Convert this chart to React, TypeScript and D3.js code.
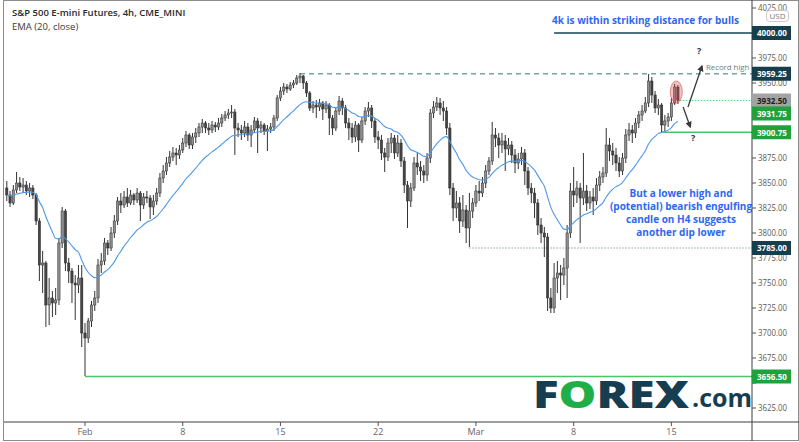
import React from 'react';
import * as d3 from 'd3';

// ---------- data ----------
const firstOpen = 3845;
const emaSeed = 3838;

const closes = [
  3838,3830,3843,3850,3846,3848,3842,3845,3838,3812,
  3768,3770,3728,3735,3730,3733,3790,3822,3770,3762,
  3750,3748,3755,3700,3695,3712,3728,3735,3768,3772,
  3790,3785,3800,3812,3832,3828,3836,3830,3838,3833,
  3840,3828,3836,3835,3826,3832,3840,3855,3862,3870,
  3876,3880,3878,3883,3890,3898,3888,3896,3900,3906,
  3910,3905,3903,3908,3906,3910,3915,3918,3920,3921,
  3905,3903,3900,3906,3898,3903,3912,3905,3908,3902,
  3904,3906,3915,3935,3942,3946,3944,3948,3950,3955,
  3957,3950,3940,3925,3928,3926,3930,3924,3928,3915,
  3905,3922,3932,3925,3910,3905,3896,3908,3893,3912,
  3922,3925,3912,3896,3893,3880,3876,3890,3895,3880,
  3890,3872,3848,3832,3845,3870,3866,3862,3858,3875,
  3920,3926,3930,3925,3922,3905,3845,3825,3830,3812,
  3823,3805,3822,3830,3842,3840,3850,3862,3872,3898,
  3895,3888,3892,3884,3888,3878,3870,3874,3880,3862,
  3845,3840,3830,3808,3800,3796,3735,3725,3755,3760,
  3758,3765,3800,3842,3838,3845,3835,3842,3830,3836,
  3832,3848,3856,3860,3888,3882,3878,3870,3862,3875,
  3898,3903,3900,3910,3918,3922,3930,3952,3938,3925,
  3928,3908,3912,3916,3930,3946,3932.5,
];

const highs = [
  3852,3842,3848,3861,3856,3855,3852,3850,3848,3840,
  3815,3782,3772,3755,3742,3745,3795,3826,3824,3775,
  3765,3758,3768,3768,3710,3715,3732,3742,3774,3780,
  3795,3793,3806,3818,3836,3840,3842,3845,3843,3840,
  3845,3842,3840,3842,3838,3838,3845,3860,3868,3876,
  3882,3886,3885,3888,3895,3902,3900,3900,3905,3910,
  3914,3912,3910,3912,3911,3915,3919,3922,3924,3928,
  3924,3910,3908,3912,3910,3908,3916,3915,3912,3910,
  3908,3910,3918,3938,3946,3950,3949,3951,3953,3958,
  3960,3958,3952,3942,3932,3933,3934,3932,3932,3930,
  3918,3926,3937,3935,3928,3915,3910,3912,3910,3916,
  3926,3931,3928,3915,3902,3898,3885,3895,3900,3898,
  3898,3894,3876,3852,3850,3876,3880,3872,3868,3880,
  3924,3932,3936,3935,3932,3926,3910,3850,3842,3836,
  3838,3828,3840,3835,3848,3852,3856,3868,3876,3911,
  3905,3900,3900,3898,3895,3892,3884,3880,3886,3884,
  3866,3850,3845,3834,3815,3806,3800,3745,3770,3772,
  3768,3775,3808,3850,3866,3852,3850,3880,3848,3842,
  3845,3855,3862,3866,3905,3895,3890,3885,3876,3880,
  3904,3910,3908,3915,3922,3928,3936,3959,3956,3942,
  3934,3930,3918,3920,3935,3949,3948,
];

const lows = [
  3832,3826,3828,3840,3842,3840,3838,3836,3834,3808,
  3752,3740,3706,3708,3716,3718,3728,3785,3762,3750,
  3730,3713,3740,3686,3657,3690,3706,3722,3730,3760,
  3768,3778,3782,3795,3808,3820,3825,3826,3828,3828,
  3830,3812,3824,3830,3814,3818,3828,3836,3850,3858,
  3866,3872,3868,3874,3880,3886,3884,3884,3890,3896,
  3900,3900,3898,3900,3901,3903,3906,3912,3914,3915,
  3878,3896,3893,3896,3892,3886,3900,3880,3900,3898,
  3882,3900,3902,3912,3932,3938,3940,3942,3945,3948,
  3950,3944,3936,3922,3920,3915,3922,3913,3920,3898,
  3898,3902,3918,3918,3905,3893,3890,3891,3881,3890,
  3908,3916,3905,3890,3884,3873,3861,3872,3880,3874,
  3876,3866,3840,3805,3826,3842,3858,3852,3850,3852,
  3870,3915,3922,3918,3912,3898,3838,3812,3815,3800,
  3806,3790,3786,3815,3826,3832,3836,3845,3858,3868,
  3886,3875,3880,3862,3878,3870,3860,3864,3868,3848,
  3838,3830,3815,3798,3790,3776,3722,3720,3720,3740,
  3733,3748,3735,3795,3826,3830,3790,3828,3822,3824,
  3818,3828,3842,3850,3856,3872,3868,3862,3856,3858,
  3870,3892,3890,3895,3905,3912,3920,3926,3930,3920,
  3918,3901,3902,3906,3912,3928,3929,
];

const timeTickBars = [24, 54, 84, 114, 144, 174, 204];
const timeTickLabels = ['Feb', '8', '15', '22', 'Mar', '8', '15'];

const priceTicks = [3625, 3650, 3675, 3700, 3725, 3750, 3775, 3800, 3825, 3850, 3875, 3900, 3925, 3950, 3975, 4000, 4025];

const labelValues = [4000, 3959.25, 3932.5, 3931.75, 3900.75, 3785, 3656.5];
const labelKinds = ['dark', 'dark', 'gray', 'green', 'green', 'dark', 'green'];

const lineValues = [4000, 3959.25, 3785, 3932.5, 3900.75, 3656.5];
const lineStartBars = [168, 90, 142, 206.6, 201, 24];
const lineKinds = ['solid', 'dashed', 'dotted', 'dottedGreen', 'green', 'green'];

const title = 'S&P 500 E-mini Futures, 4h, CME_MINI';
const subtitle = 'EMA (20, close)';
const topNote = '4k is within striking distance for bulls';
const sideNote = ['But a lower high and', '(potential) bearish engulfing', 'candle on H4 suggests', 'another dip lower'];

// ---------- layout ----------
const W = 799, H = 442;
const PL = 4, PR = 752, PT = 1, PB = 422;
const FONT = '"Open Sans", "Noto Sans", sans-serif';

export default function App() {
  const x = d3.scaleLinear().domain([0, 206]).range([6.8, 677.9]);
  const y = d3.scaleLinear().domain([3625, 4025]).range([408, 8]);

  const bars = closes.map((c, i) => {
    const o = i === 0 ? firstOpen : closes[i - 1];
    return { i, o, c, h: Math.max(highs[i], o, c), l: Math.min(lows[i], o, c) };
  });

  const k = 2 / 21;
  let e = emaSeed;
  const ema = closes.map((c) => (e = e + k * (c - e)));
  const emaPath = d3.line<number>().x((_, i) => x(i)).y((v) => y(v)).curve(d3.curveMonotoneX)(ema) || '';

  // right-axis labels with simple collision avoidance
  const order = labelValues.map((v, i) => i).sort((a, b) => labelValues[b] - labelValues[a]);
  const labelY: number[] = [];
  let prev = -100;
  order.forEach((idx) => {
    let yy = y(labelValues[idx]);
    if (yy < prev + 13) yy = prev + 13;
    labelY[idx] = yy;
    prev = yy;
  });

  // tick labels fully covered by a level box are not drawn
  const visibleTicks = priceTicks.filter((p) => labelY.every((ly) => Math.abs(ly - y(p)) >= 9));

  const labelFill: Record<string, string> = { dark: '#163e4c', gray: '#a3a3a3', green: '#1fa23c' };
  const labelText: Record<string, string> = { dark: '#ffffff', gray: '#1e1e1e', green: '#ffffff' };

  const lineStyle = (kind: string) => {
    switch (kind) {
      case 'solid': return { stroke: '#124556', strokeWidth: 1.6 };
      case 'dashed': return { stroke: '#7f9ea6', strokeWidth: 1.5, strokeDasharray: '5,4' };
      case 'dotted': return { stroke: '#8aa3ab', strokeWidth: 1, strokeDasharray: '1.5,1.5' };
      case 'dottedGreen': return { stroke: '#5ccf74', strokeWidth: 1, strokeDasharray: '1.5,1.5' };
      default: return { stroke: '#4cc567', strokeWidth: 1.3 };
    }
  };

  const bw = 2.3;

  return (
    <svg width={W} height={H} style={{ position: 'absolute', left: 0, top: 0, background: '#fff' }} fontFamily={FONT}>
      <defs>
        <clipPath id="plot">
          <rect x={PL} y={PT} width={PR - PL} height={PB - PT} />
        </clipPath>
        <marker id="arr" viewBox="0 0 10 10" refX="8" refY="5" markerWidth="5" markerHeight="5" orient="auto">
          <path d="M0,0 L10,5 L0,10 z" fill="#3a3a3a" />
        </marker>
      </defs>
      <rect x={0} y={0} width={W} height={H} fill="#fff" />

      <g clipPath="url(#plot)">
        {/* level lines */}
        {lineValues.map((v, i) => (
          <line key={'lv' + i} x1={x(lineStartBars[i])} x2={PR} y1={y(v)} y2={y(v)} {...lineStyle(lineKinds[i])} />
        ))}

        {/* candles */}
        {bars.map((b) => {
          const cx = x(b.i);
          const top = y(Math.max(b.o, b.c));
          const bot = y(Math.min(b.o, b.c));
          const up = b.c >= b.o;
          return (
            <g key={'b' + b.i}>
              <line x1={cx} x2={cx} y1={y(b.h)} y2={y(b.l)} stroke="#333" strokeWidth={1} />
              <rect x={cx - bw / 2} y={top} width={bw} height={Math.max(1, bot - top)}
                fill={up ? '#8e8e8e' : '#444444'} stroke="#2b2b2b" strokeWidth={0.5} />
            </g>
          );
        })}

        {/* EMA */}
        <path d={emaPath} fill="none" stroke="#4e98e6" strokeWidth={1.1} />

        {/* highlight on the engulfing candle */}
        <ellipse cx={x(205.5)} cy={y(3941)} rx={6} ry={11} fill="rgba(220,80,80,0.35)" stroke="rgba(200,70,70,0.55)" strokeWidth={1} />

        {/* scenario arrows */}
        <line x1={x(209.1)} y1={y(3926)} x2={x(213.4)} y2={y(3967)} stroke="#3a3a3a" strokeWidth={1.3} markerEnd="url(#arr)" />
        <line x1={x(207.6)} y1={y(3926)} x2={x(209.8)} y2={y(3906)} stroke="#3a3a3a" strokeWidth={1.3} markerEnd="url(#arr)" />
        <text x={x(212.5)} y={y(3979)} fontSize={9} fontWeight={700} fill="#333" textAnchor="middle">?</text>
        <text x={x(210.7)} y={y(3892)} fontSize={9} fontWeight={700} fill="#333" textAnchor="middle">?</text>
        <text x={706} y={y(3963)} fontSize={7.8} fill="#6a8088">Record high</text>

        {/* annotations */}
        <text x={552} y={24} fontSize={10} fontWeight={700} fill="#2d68f0">{topNote}</text>
        {sideNote.map((t, i) => (
          <text key={'sn' + i} x={681} y={197 + i * 13} fontSize={10} fontWeight={700} fill="#2d68f0" textAnchor="middle">{t}</text>
        ))}

        {/* logo */}
        <text x={533} y={408} fontSize={37} fontWeight={800} fill="#173d50" textLength={156} lengthAdjust="spacingAndGlyphs">
          F<tspan fill="#1fae48">O</tspan>REX
        </text>
        <text x={692} y={407} fontSize={25} fontWeight={700} fill="#173d50">.com</text>
      </g>

      {/* title */}
      <text x={12} y={16} fontSize={9.5} fontWeight={600} fill="#2a2a2a">{title}</text>
      <text x={12} y={30} fontSize={9.5} fill="#3a3a3a">{subtitle}</text>

      {/* axes frame */}
      <rect x={3.5} y={0.5} width={W - 4} height={H - 2} fill="none" stroke="#8c8c8c" strokeWidth={1} />
      <line x1={PR} x2={PR} y1={0} y2={H - 1} stroke="#3c3c3c" strokeWidth={1} />
      <line x1={PL} x2={W} y1={PB} y2={PB} stroke="#3c3c3c" strokeWidth={1} />

      {/* price axis */}
      {priceTicks.map((p) => (
        <line key={'ptl' + p} x1={PR} x2={PR + 4} y1={y(p)} y2={y(p)} stroke="#555" />
      ))}
      {visibleTicks.map((p) => (
        <text key={'pt' + p} x={758} y={y(p) + 3.2} fontSize={9} fill="#5a5a5a" textLength={29} lengthAdjust="spacingAndGlyphs">{p.toFixed(2)}</text>
      ))}
      <rect x={766.5} y={10.5} width={22} height={11} rx={3} fill="#fff" stroke="#c8c8c8" />
      <text x={777.5} y={19} fontSize={8} fill="#7a7a7a" textAnchor="middle">USD</text>

      {labelValues.map((v, i) => (
        <g key={'lb' + i}>
          <rect x={PR} y={labelY[i] - 7} width={39} height={14} fill={labelFill[labelKinds[i]]} />
          <text x={757} y={labelY[i] + 3.3} fontSize={9.5} fontWeight={700} fill={labelText[labelKinds[i]]} textLength={30} lengthAdjust="spacingAndGlyphs">{v.toFixed(2)}</text>
        </g>
      ))}

      {/* time axis */}
      {timeTickBars.map((b, i) => (
        <g key={'tt' + i}>
          <line x1={x(b)} x2={x(b)} y1={PB} y2={PB + 4} stroke="#555" />
          <text x={x(b)} y={435} fontSize={9} fill="#666" textAnchor="middle">{timeTickLabels[i]}</text>
        </g>
      ))}
    </svg>
  );
}
